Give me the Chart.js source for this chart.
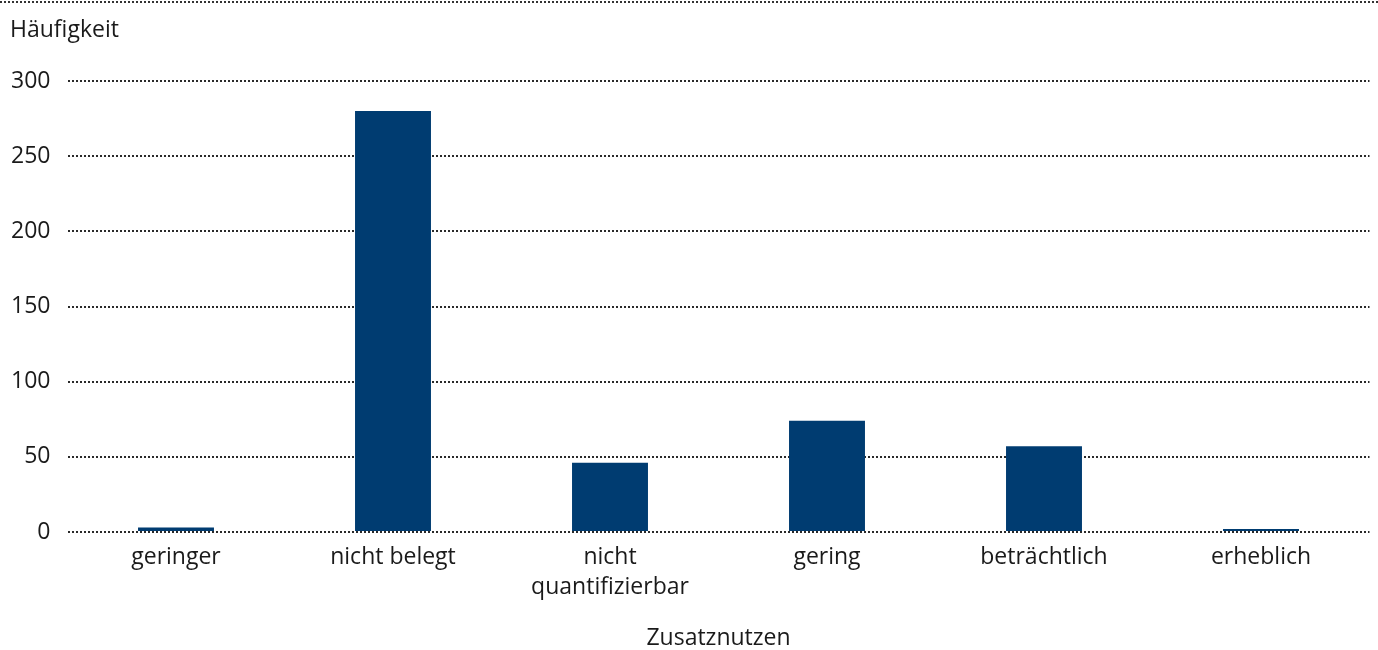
<!DOCTYPE html>
<html lang="de">
<head>
    <meta charset="UTF-8">
    <title>Zusatznutzen</title>
    <script src="https://cdn.jsdelivr.net/npm/chart.js"></script>
    <style>
        html, body { margin: 0; padding: 0; background: #fff; }
        #wrap { width: 1378px; height: 650px; position: relative; }
    </style>
</head>
<body>
    <div id="wrap">
        <canvas id="chart"></canvas>
    </div>

    <script>
        // Kategorien und Häufigkeiten
        const categories = ["geringer", "nicht belegt", ["nicht", "quantifizierbar"], "gering", "beträchtlich", "erheblich"];
        const counts = [3, 280, 46, 74, 57, 2];
        const yTicks = [0, 50, 100, 150, 200, 250, 300];

        const FONT = "'Open Sans'";
        const SIZE = 23;
        const TEXT = "#1a1a1a";

        // gepunktete Linie ganz oben über die volle Breite
        const topRule = {
            id: "topRule",
            afterDraw(chart) {
                const c = chart.ctx;
                c.save();
                c.strokeStyle = "#333";
                c.lineWidth = 2;
                c.setLineDash([2, 2]);
                c.beginPath();
                c.moveTo(0, 2);
                c.lineTo(chart.width, 2);
                c.stroke();
                c.restore();
            }
        };

        new Chart(document.getElementById("chart"), {
            type: "bar",
            data: {
                labels: categories,
                datasets: [{
                    data: counts,
                    backgroundColor: "#003c71",
                    barPercentage: 0.35,
                    categoryPercentage: 1
                }]
            },
            options: {
                responsive: true,
                maintainAspectRatio: false,
                animation: false,
                layout: { padding: { left: 10, right: 8.5, top: 0, bottom: 0 } },
                plugins: {
                    legend: { display: false },
                    tooltip: { enabled: false },
                    title: {
                        display: true,
                        text: "Häufigkeit",
                        align: "start",
                        color: TEXT,
                        font: { family: FONT, size: SIZE, weight: "normal", lineHeight: 1.2 },
                        padding: { top: 16.2, bottom: 37.2 }
                    }
                },
                scales: {
                    x: {
                        grid: { display: false, drawTicks: false },
                        border: { display: false },
                        ticks: {
                            color: TEXT,
                            padding: 10,
                            maxRotation: 0,
                            autoSkip: false,
                            font: { family: FONT, size: SIZE, lineHeight: 30 / SIZE }
                        },
                        title: {
                            display: true,
                            text: "Zusatznutzen",
                            color: TEXT,
                            font: { family: FONT, size: SIZE, lineHeight: 1 },
                            padding: { top: 15, bottom: 0 }
                        }
                    },
                    y: {
                        min: 0,
                        max: 300,
                        afterBuildTicks(scale) {
                            scale.ticks = yTicks.map(v => ({ value: v }));
                        },
                        afterFit(scale) {
                            scale.width = 57.5;
                        },
                        // gepunktete Gitterlinien
                        grid: {
                            color: "#2a2a2a",
                            lineWidth: 2,
                            drawTicks: false
                        },
                        border: { display: false, dash: [2, 2] },
                        ticks: {
                            color: TEXT,
                            padding: 17,
                            font: { family: FONT, size: SIZE }
                        }
                    }
                }
            },
            plugins: [topRule]
        });
    </script>
</body>
</html>
